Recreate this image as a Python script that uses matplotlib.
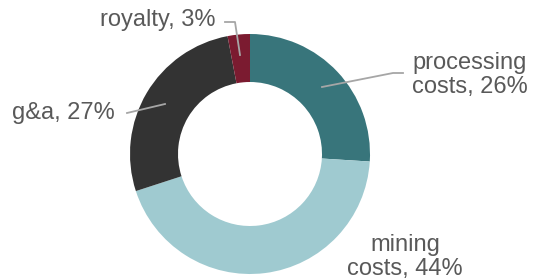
import matplotlib
matplotlib.use('Agg')
import matplotlib.pyplot as plt

# data
labels = ['processing\ncosts, 26%', 'mining\ncosts, 44%', 'g&a, 27%', 'royalty, 3%']
shares = [26, 44, 27, 3]
colors = ['#38757b', '#9fcad0', '#333333', '#7b1b30']

W, H = 534, 280
fig = plt.figure(figsize=(W / 100, H / 100), dpi=100)
ax = fig.add_axes([0, 0, 1, 1])

cx, cy, r = 250, H - 154, 120
ax.pie(shares, colors=colors, startangle=90, counterclock=False,
       center=(cx, cy), radius=r, frame=True,
       wedgeprops=dict(width=r * 0.4, linewidth=0))
ax.set_xlim(0, W)
ax.set_ylim(0, H)
ax.set_aspect('equal')
ax.axis('off')

tc = '#595959'
lc = '#a6a6a6'
fs = 17
font = ['Liberation Sans', 'DejaVu Sans']

def py(y):
    return H - y

# label positions (pixel coords, from top)
ax.text(470, py(75), labels[0], ha='center', va='center', fontsize=fs,
        color=tc, family=font, linespacing=1.15)
ax.plot([322, 393, 403], [py(87), py(73), py(73)], color=lc, lw=1.3)

ax.text(405, py(257), labels[1], ha='center', va='center', fontsize=fs,
        color=tc, family=font, linespacing=1.15)

ax.text(12, py(113), labels[2], ha='left', va='center', fontsize=fs,
        color=tc, family=font)
ax.plot([127, 165], [py(113), py(104)], color=lc, lw=1.3)

ax.text(216, py(20), labels[3], ha='right', va='center', fontsize=fs,
        color=tc, family=font)
ax.plot([225, 235, 240], [py(22), py(22), py(55)], color=lc, lw=1.3)

fig.savefig('out.png', dpi=100)
